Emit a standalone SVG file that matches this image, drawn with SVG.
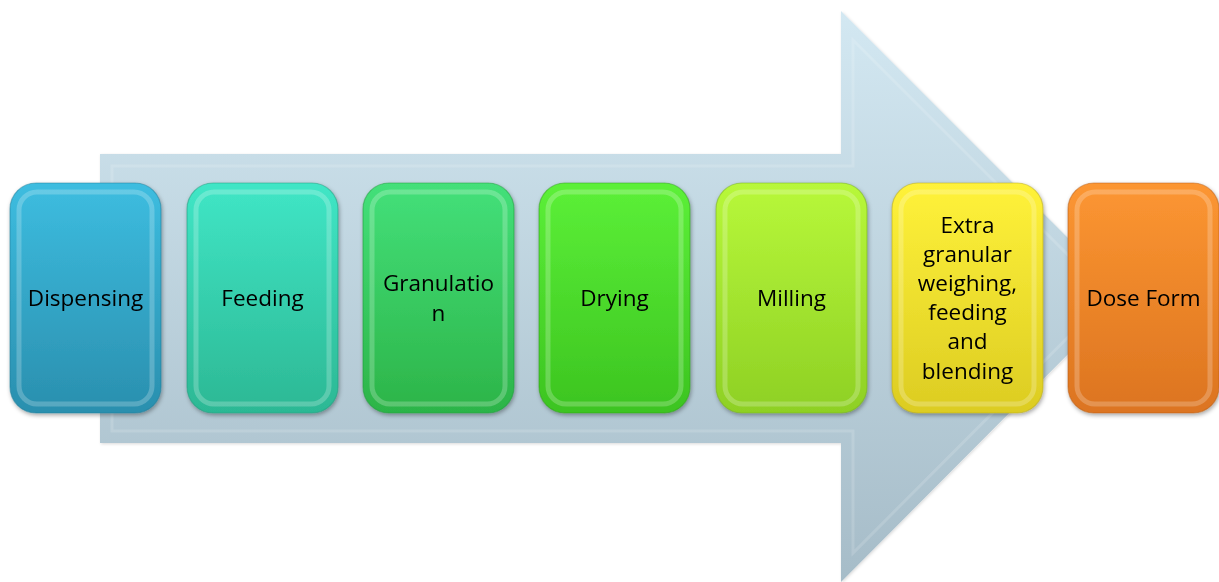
<svg xmlns="http://www.w3.org/2000/svg" width="1219" height="582" viewBox="0 0 1219 582">
  <style>
    .lbl { font-family: "Open Sans", "Liberation Sans", sans-serif; font-size: 22.5px; fill: #000; text-anchor: middle; }
    .hl { fill: none; stroke: #ffffff; stroke-opacity: 0.22; stroke-width: 5; }
    .edge { stroke-opacity: 0.5; stroke-width: 1.2; }
  </style>
  <defs>
    <linearGradient id="gArrow" x1="0" y1="0" x2="0" y2="1">
      <stop offset="0" stop-color="#d3e8f2"/>
      <stop offset="1" stop-color="#a6bcc8"/>
    </linearGradient>
    <linearGradient id="gBlue" x1="0" y1="0" x2="0" y2="1">
      <stop offset="0" stop-color="#3dbde0"/>
      <stop offset="1" stop-color="#2a8fae"/>
    </linearGradient>
    <linearGradient id="gTeal" x1="0" y1="0" x2="0" y2="1">
      <stop offset="0" stop-color="#40e6c6"/>
      <stop offset="1" stop-color="#2cb894"/>
    </linearGradient>
    <linearGradient id="gGreen" x1="0" y1="0" x2="0" y2="1">
      <stop offset="0" stop-color="#44e07a"/>
      <stop offset="1" stop-color="#2cb448"/>
    </linearGradient>
    <linearGradient id="gLime" x1="0" y1="0" x2="0" y2="1">
      <stop offset="0" stop-color="#5cf038"/>
      <stop offset="1" stop-color="#3cc420"/>
    </linearGradient>
    <linearGradient id="gYG" x1="0" y1="0" x2="0" y2="1">
      <stop offset="0" stop-color="#b8f83a"/>
      <stop offset="1" stop-color="#8ed024"/>
    </linearGradient>
    <linearGradient id="gYellow" x1="0" y1="0" x2="0" y2="1">
      <stop offset="0" stop-color="#fff23a"/>
      <stop offset="1" stop-color="#dccc22"/>
    </linearGradient>
    <linearGradient id="gOrange" x1="0" y1="0" x2="0" y2="1">
      <stop offset="0" stop-color="#fc9632"/>
      <stop offset="1" stop-color="#dc7420"/>
    </linearGradient>
    <filter id="shadow" x="-10%" y="-10%" width="130%" height="130%">
      <feDropShadow dx="1" dy="2" stdDeviation="2" flood-color="#000" flood-opacity="0.35"/>
    </filter>
    <filter id="soft" x="-5%" y="-5%" width="110%" height="110%">
      <feDropShadow dx="1" dy="1" stdDeviation="1.5" flood-color="#000" flood-opacity="0.15"/>
    </filter>
  </defs>

  <!-- background block arrow -->
  <g id="arrow">
    <path d="M100,154 L841,154 L841,11 L1126,296 L841,582 L841,443 L100,443 Z" fill="url(#gArrow)" filter="url(#soft)"/>
    <path d="M112,166 L853,166 L853,40 L1109,296 L853,553 L853,431 L112,431 Z" fill="none" stroke="#ffffff" stroke-opacity="0.15" stroke-width="3"/>
  </g>

  <!-- process steps -->
  <g id="n1" filter="url(#shadow)">
    <rect x="10" y="183" width="151" height="230" rx="26" fill="url(#gBlue)" stroke="#1f7d99" class="edge"/>
    <rect x="19" y="192" width="133" height="212" rx="18" class="hl"/>
    <text class="lbl" x="85.5" y="306">Dispensing</text>
  </g>
  <g id="n2" filter="url(#shadow)">
    <rect x="187" y="183" width="151" height="230" rx="26" fill="url(#gTeal)" stroke="#1f9c7c" class="edge"/>
    <rect x="196" y="192" width="133" height="212" rx="18" class="hl"/>
    <text class="lbl" x="262.5" y="306">Feeding</text>
  </g>
  <g id="n3" filter="url(#shadow)">
    <rect x="363" y="183" width="151" height="230" rx="26" fill="url(#gGreen)" stroke="#1f9c3a" class="edge"/>
    <rect x="372" y="192" width="133" height="212" rx="18" class="hl"/>
    <text class="lbl" x="438.5" y="291">Granulatio</text>
    <text class="lbl" x="438.5" y="321">n</text>
  </g>
  <g id="n4" filter="url(#shadow)">
    <rect x="539" y="183" width="151" height="230" rx="26" fill="url(#gLime)" stroke="#2fa01a" class="edge"/>
    <rect x="548" y="192" width="133" height="212" rx="18" class="hl"/>
    <text class="lbl" x="614.5" y="306">Drying</text>
  </g>
  <g id="n5" filter="url(#shadow)">
    <rect x="716" y="183" width="151" height="230" rx="26" fill="url(#gYG)" stroke="#76b01a" class="edge"/>
    <rect x="725" y="192" width="133" height="212" rx="18" class="hl"/>
    <text class="lbl" x="791.5" y="306">Milling</text>
  </g>
  <g id="n6" filter="url(#shadow)">
    <rect x="892" y="183" width="151" height="230" rx="26" fill="url(#gYellow)" stroke="#b8aa18" class="edge"/>
    <rect x="901" y="192" width="133" height="212" rx="18" class="hl"/>
    <text class="lbl" x="967.5" y="233">Extra</text>
    <text class="lbl" x="967.5" y="262">granular</text>
    <text class="lbl" x="967.5" y="291">weighing,</text>
    <text class="lbl" x="967.5" y="320">feeding</text>
    <text class="lbl" x="967.5" y="349">and</text>
    <text class="lbl" x="967.5" y="379">blending</text>
  </g>
  <g id="n7" filter="url(#shadow)">
    <rect x="1068" y="183" width="151" height="230" rx="26" fill="url(#gOrange)" stroke="#b85e18" class="edge"/>
    <rect x="1077" y="192" width="133" height="212" rx="18" class="hl"/>
    <text class="lbl" x="1143.5" y="306">Dose Form</text>
  </g>

  <g id="connectors"></g>
</svg>
